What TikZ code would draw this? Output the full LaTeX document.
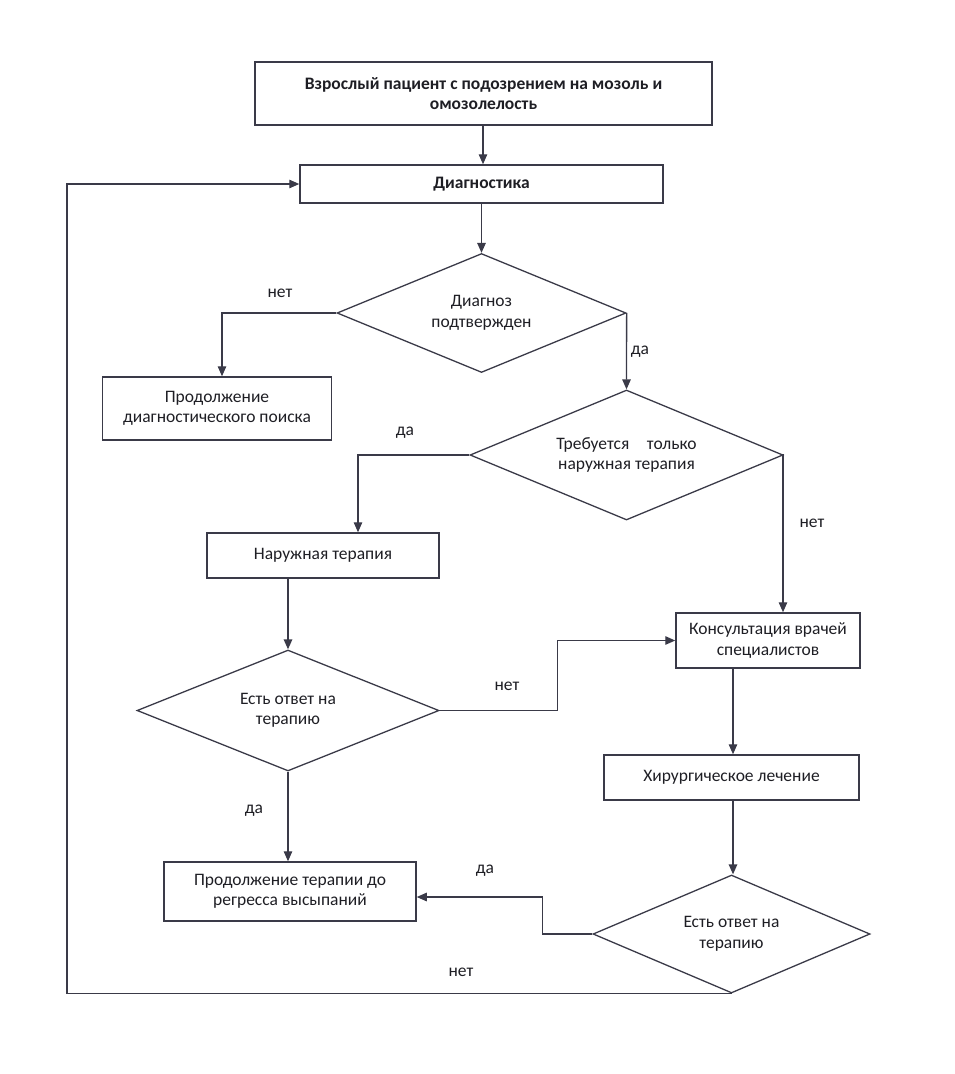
\documentclass[tikz,border=0pt]{standalone}
\usepackage{fontspec}
\setmainfont{Carlito}
\usetikzlibrary{shapes.geometric,arrows.meta}
\definecolor{ln}{HTML}{3A3A48}
\definecolor{tx}{HTML}{1E1E24}
\begin{document}
\begin{tikzpicture}[x=1pt,y=-1pt,
  every node/.style={text=tx,font=\fontsize{17.5}{20.5}\selectfont,align=center},
  box/.style={draw=ln,line width=1.5pt,rectangle,inner sep=2pt},
  dia/.style={draw=ln,line width=1.3pt,diamond,inner sep=0pt},
  lbl/.style={inner sep=0pt},
  arr/.style={draw=ln,line width=1.3pt,-{Triangle[length=10pt,width=8.5pt]}},
  con/.style={draw=ln,line width=1.3pt}]
\useasboundingbox (0,0) rectangle (955,1074);
\node[box,minimum width=457pt,minimum height=63pt] (b1) at (483.5,93.5) {\textbf{Взрослый пациент с подозрением на мозоль и}\\\textbf{омозолелость}};
\node[box,minimum width=363pt,minimum height=38pt] (b2) at (481.5,184) {\textbf{Диагностика}};
\node[dia,aspect=2.43,minimum width=289pt,minimum height=119pt] (d1) at (481.5,313) {Диагноз\\подтвержден};
\node[box,minimum width=229pt,minimum height=63pt] (b3) at (217,408.5) {Продолжение\\диагностического поиска};
\node[dia,aspect=2.41,minimum width=313pt,minimum height=130pt] (d2) at (626.5,455) {Требуется\quad{}только\\наружная терапия};
\node[box,minimum width=232pt,minimum height=45pt] (b4) at (323,555.5) {Наружная терапия};
\node[dia,aspect=2.5,minimum width=302pt,minimum height=121pt] (d3) at (288,710.5) {Есть ответ на\\терапию};
\node[box,minimum width=184pt,minimum height=55pt] (b5) at (768,640.5) {Консультация врачей\\специалистов};
\node[box,minimum width=255pt,minimum height=45pt] (b7) at (731.5,777.5) {Хирургическое лечение};
\node[dia,aspect=2.35,minimum width=277pt,minimum height=118pt] (d4) at (731.5,934) {Есть ответ на\\терапию};
\node[box,minimum width=252pt,minimum height=59pt] (b6) at (290,891.5) {Продолжение терапии до\\регресса высыпаний};

\node[lbl] (l1) at (280,293) {нет};
\node[lbl] (l2) at (640,352) {да};
\node[lbl] (l3) at (405,433) {да};
\node[lbl] (l4) at (812,523) {нет};
\node[lbl] (l5) at (507,686) {нет};
\node[lbl] (l6) at (254,811) {да};
\node[lbl] (l7) at (485,871) {да};
\node[lbl] (l8) at (461,972) {нет};

\draw[arr] (b1.south -| 483,0) -- (b2.north -| 483,0);
\draw[arr] (b2.south) -- (d1.north);
\draw[arr] (d1.west) -| ([xshift=5pt]b3.north);
\draw[arr] (d1.east) -- (d2.north);
\draw[arr] (d2.west) -| ([xshift=35pt]b4.north);
\draw[arr] (d2.east) -| ([xshift=15pt]b5.north);
\draw[arr] ([xshift=-35pt]b4.south) -- (d3.north);
\draw[arr] (d3.east) -- ++(118,0) |- (b5.west);
\draw[arr] (d3.south) -- (b6.north -| d3.south);
\draw[arr] ([xshift=-35pt]b5.south) -- ([xshift=-35pt]b5.south |- b7.north);
\draw[arr] (b7.south -| 733,0) -- (d4.north -| 733,0);
\draw[arr] (d4.west) -- ++(-50,0) |- ([yshift=-5.5pt]b6.east);
\draw[arr] (d4.south) -- ++(-664.5,0) |- (b2.west);
\end{tikzpicture}
\end{document}
